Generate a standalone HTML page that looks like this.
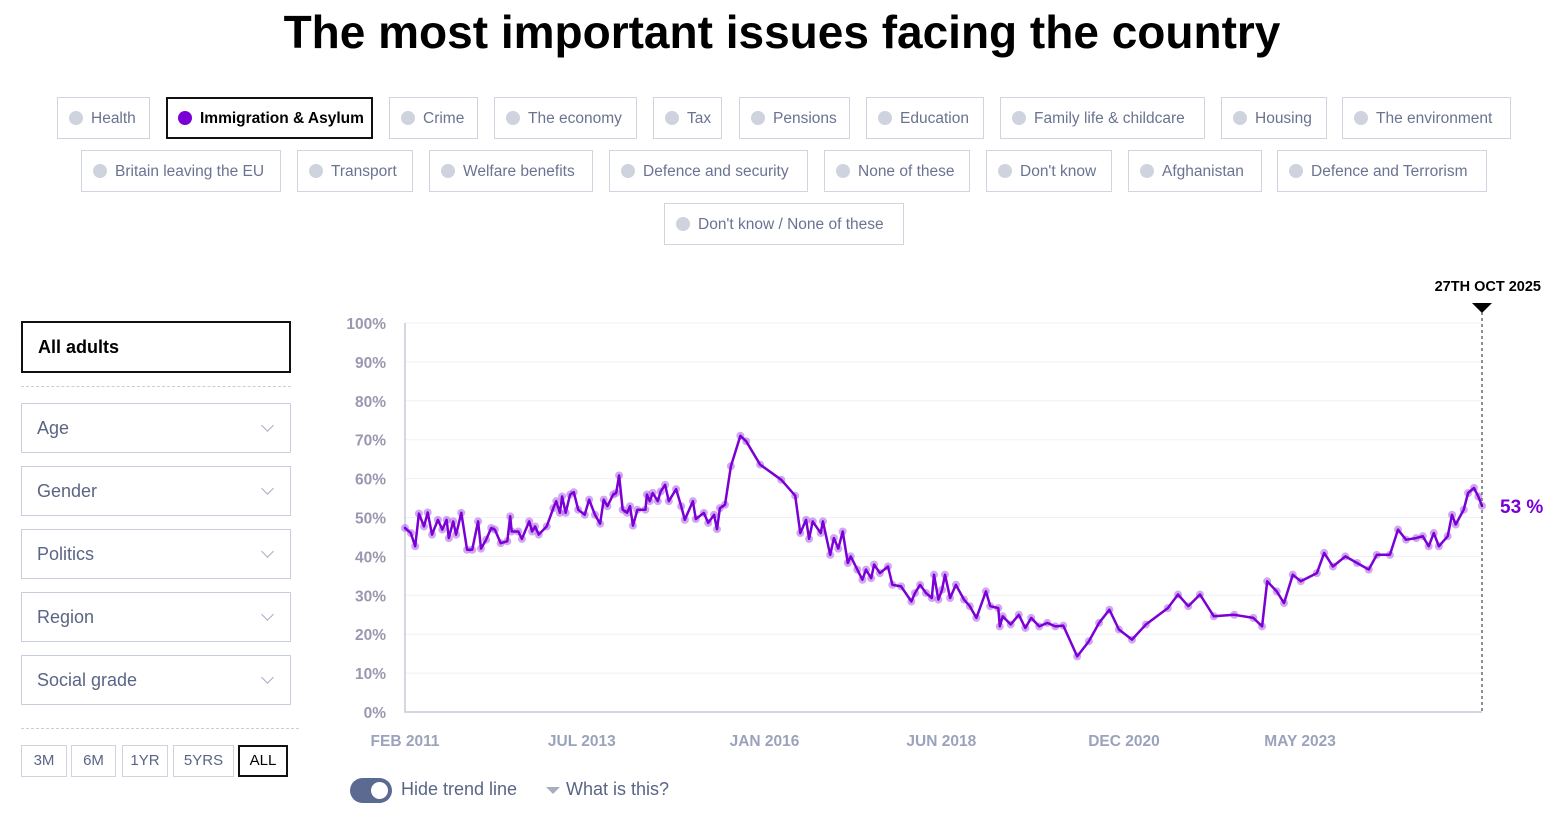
<!DOCTYPE html>
<html><head><meta charset="utf-8"><style>
body{margin:0;width:1564px;height:824px;background:#fff;font-family:"Liberation Sans",sans-serif;position:relative;overflow:hidden}
.t{position:absolute;left:0;width:1564px;top:5px;text-align:center;font-size:46px;font-weight:bold;letter-spacing:0;color:#000}
.b{position:absolute;height:42px;border:1px solid #d0d4e0;box-sizing:border-box;color:#6a7391;font-size:15.5px;line-height:41px;padding-left:33px;white-space:nowrap}
.b:before{content:"";position:absolute;left:11px;top:13px;width:14px;height:14px;border-radius:50%;background:#cfd3de}
.b.on{border:2px solid #111;color:#000;font-weight:bold;line-height:39px;padding-left:32px}
.b.on:before{background:#7a00d6;left:10px;top:12px}
.dd{position:absolute;left:21px;width:270px;height:50px;border:1px solid #c9cedd;box-sizing:border-box;font-size:18px;color:#5a6585;line-height:48px;padding-left:15px}
.dd:after{content:"";position:absolute;right:18px;top:17px;width:8px;height:8px;border-right:1.5px solid #a8aec2;border-bottom:1.5px solid #a8aec2;transform:rotate(45deg)}
.tb{position:absolute;top:745px;height:32px;border:1px solid #cfd3de;box-sizing:border-box;font-size:15px;color:#5a6585;text-align:center;line-height:30px}
.tb.on{border:2px solid #111;color:#000;line-height:28px}
.dash{position:absolute;left:21px;border-top:1px dashed #c9cedd}
</style></head><body>
<div class="t">The most important issues facing the country</div>
<div>
<div class="b" style="left:57px;top:97px;width:93px">Health</div>
<div class="b on" style="left:166px;top:97px;width:207px">Immigration &amp; Asylum</div>
<div class="b" style="left:389px;top:97px;width:89px">Crime</div>
<div class="b" style="left:494px;top:97px;width:143px">The economy</div>
<div class="b" style="left:653px;top:97px;width:69px">Tax</div>
<div class="b" style="left:739px;top:97px;width:111px">Pensions</div>
<div class="b" style="left:866px;top:97px;width:118px">Education</div>
<div class="b" style="left:1000px;top:97px;width:205px">Family life &amp; childcare</div>
<div class="b" style="left:1221px;top:97px;width:106px">Housing</div>
<div class="b" style="left:1342px;top:97px;width:169px">The environment</div>
<div class="b" style="left:81px;top:150px;width:200px">Britain leaving the EU</div>
<div class="b" style="left:297px;top:150px;width:116px">Transport</div>
<div class="b" style="left:429px;top:150px;width:164px">Welfare benefits</div>
<div class="b" style="left:609px;top:150px;width:199px">Defence and security</div>
<div class="b" style="left:824px;top:150px;width:146px">None of these</div>
<div class="b" style="left:986px;top:150px;width:126px">Don't know</div>
<div class="b" style="left:1128px;top:150px;width:134px">Afghanistan</div>
<div class="b" style="left:1277px;top:150px;width:210px">Defence and Terrorism</div>
<div class="b" style="left:664px;top:203px;width:240px">Don't know / None of these</div>
</div>
<div style="position:absolute;left:21px;top:321px;width:270px;height:52px;border:2px solid #111;box-sizing:border-box;font-size:18px;font-weight:bold;line-height:48px;padding-left:15px">All adults</div>
<div class="dash" style="top:386px;width:270px"></div>
<div class="dd" style="top:403px">Age</div>
<div class="dd" style="top:466px">Gender</div>
<div class="dd" style="top:529px">Politics</div>
<div class="dd" style="top:592px">Region</div>
<div class="dd" style="top:655px">Social grade</div>
<div class="dash" style="top:728px;width:278px"></div>
<div class="tb" style="left:21px;width:46px">3M</div>
<div class="tb" style="left:71px;width:45px">6M</div>
<div class="tb" style="left:122px;width:46px">1YR</div>
<div class="tb" style="left:173px;width:61px">5YRS</div>
<div class="tb on" style="left:238px;width:50px">ALL</div>
<div style="position:absolute;left:350px;top:778px;width:42px;height:25px;border-radius:13px;background:#5b6a90"><div style="position:absolute;right:4px;top:4px;width:17px;height:17px;border-radius:50%;background:#fff"></div></div>
<div style="position:absolute;left:401px;top:779px;font-size:18px;color:#5a6585">Hide trend line</div>
<div style="position:absolute;left:546px;top:779px;font-size:18px;color:#5a6585"><span style="display:inline-block;width:0;height:0;border-left:7px solid transparent;border-right:7px solid transparent;border-top:7px solid #a8aec2;vertical-align:middle;margin-right:6px"></span>What is this?</div>
<svg id="c" width="1564" height="824" style="position:absolute;left:0;top:0"></svg>
<script>
const yTicks=[0,10,20,30,40,50,60,70,80,90,100];
const xTickYears=[2011.08,2013.5,2016.0,2018.42,2020.92,2023.33];
const xTickLabels=["FEB 2011","JUL 2013","JAN 2016","JUN 2018","DEC 2020","MAY 2023"];
const dates=[2011.08,2011.16,2011.22,2011.27,2011.34,2011.39,2011.45,2011.53,2011.59,2011.65,2011.68,2011.74,2011.78,2011.85,2011.93,2012.00,2012.08,2012.12,2012.19,2012.26,2012.31,2012.39,2012.48,2012.52,2012.54,2012.63,2012.68,2012.78,2012.82,2012.86,2012.91,2013.02,2013.11,2013.15,2013.20,2013.23,2013.28,2013.34,2013.39,2013.45,2013.54,2013.60,2013.68,2013.75,2013.80,2013.85,2013.93,2013.97,2014.01,2014.06,2014.12,2014.16,2014.20,2014.26,2014.37,2014.39,2014.43,2014.47,2014.54,2014.58,2014.64,2014.69,2014.79,2014.86,2014.91,2015.02,2015.06,2015.17,2015.23,2015.31,2015.35,2015.39,2015.46,2015.54,2015.67,2015.75,2015.94,2016.23,2016.42,2016.49,2016.57,2016.61,2016.66,2016.77,2016.80,2016.90,2016.95,2017.01,2017.07,2017.14,2017.18,2017.27,2017.34,2017.39,2017.46,2017.50,2017.58,2017.69,2017.75,2017.87,2018.01,2018.06,2018.13,2018.21,2018.29,2018.32,2018.38,2018.43,2018.47,2018.54,2018.62,2018.73,2018.81,2018.90,2019.03,2019.09,2019.20,2019.22,2019.26,2019.37,2019.48,2019.57,2019.65,2019.76,2019.87,2019.98,2020.09,2020.28,2020.44,2020.58,2020.72,2020.85,2021.03,2021.22,2021.52,2021.66,2021.80,2021.96,2022.15,2022.43,2022.69,2022.81,2022.88,2023.01,2023.11,2023.23,2023.34,2023.56,2023.66,2023.78,2023.95,2024.11,2024.27,2024.38,2024.56,2024.67,2024.78,2024.92,2025.01,2025.09,2025.16,2025.23,2025.35,2025.41,2025.46,2025.57,2025.63,2025.71,2025.77,2025.82];
const values=[47.3,46,42.6,51,47.7,51.3,45.6,49.4,46.9,49.4,44.7,49,45.6,51.2,41.7,41.7,49,42,44.3,47.3,46.9,43.4,43.9,50.3,46.4,46.4,44.5,49,46.4,47.7,45.6,47.7,52.4,54.2,51.2,55.4,51.2,55.9,56.5,52,50.7,54.6,50.7,48.4,54.6,52.9,55.9,56.3,60.8,52,51.2,52.9,47.9,52,52,55.9,54.2,56.3,54.2,56.7,58.4,54.2,57.3,52.9,49.4,54.2,49.6,51.2,48.6,50.7,47,52.4,53.3,63.2,71,69.6,63.6,59.7,55.6,46,49.4,44.5,49,46,49,40.4,44.7,42,46.4,38.3,40,36.6,34,36.6,34.4,37.9,35.7,37.4,32.7,32.3,28.4,30.6,32.7,30.6,29.3,35.3,28.9,31.4,35.3,29.3,32.7,28.9,27.2,24.2,31,27.2,26.7,22,24.6,22.5,25,21.6,24.2,22,22.9,22,22.2,14.3,18.2,22.9,26.3,21.2,18.6,22.5,26.7,30.2,27.2,30.2,24.6,25,24.2,22,33.6,31,28,35.3,33.6,35.7,40.9,37.4,40,38.3,36.6,40.4,40.4,46.9,44.3,44.7,45.2,42.6,46,42.6,45.2,50.7,48.2,52,56.3,57.6,55.4,53];
const latestLabel="53 %";
const NS="http://www.w3.org/2000/svg";
const svg=document.getElementById('c');
const X0=405,X1=1482,Y0=712,Y1=323,D0=2011.08,D1=2025.82;
function xs(d){return X0+(d-D0)/(D1-D0)*(X1-X0);}
function ys(v){return Y0-v/100*(Y0-Y1);}
function mk(tag,attrs){const e=document.createElementNS(NS,tag);for(const k in attrs)e.setAttribute(k,attrs[k]);svg.appendChild(e);return e;}
yTicks.forEach(v=>{
 if(v>0){const g=mk('line',{x1:X0,x2:X1,y1:ys(v),y2:ys(v),stroke:'#f1f1f5','stroke-width':1});
 
 }
 const t=mk('text',{x:386,y:ys(v)+6,'text-anchor':'end','font-size':15.5,'font-weight':'bold',fill:'#9a98b0','font-family':'Liberation Sans'});
 t.textContent=v+'%';
 
 
});
xTickYears.forEach((d,i)=>{
 const t=mk('text',{x:xs(d),y:746,'text-anchor':'middle','font-size':15.5,'font-weight':'bold',fill:'#9aa3bb','font-family':'Liberation Sans'});
 t.textContent=xTickLabels[i];
 
 
});
const ax=mk('path',{d:`M${X0} ${Y1}V${Y0}H${X1}`,fill:'none',stroke:'#c5c9d8','stroke-width':1.5});


dates.forEach((d,i)=>{
 const c=mk('circle',{cx:xs(d),cy:ys(values[i]),r:4,fill:'#a64ee8','fill-opacity':0.5});
 
 
});
const ln=mk('polyline',{points:dates.map((d,i)=>xs(d).toFixed(1)+','+ys(values[i]).toFixed(1)).join(' '),fill:'none',stroke:'#7a00d6','stroke-width':2.5,'stroke-linejoin':'round','stroke-linecap':'round'});


const vl=mk('line',{x1:X1,x2:X1,y1:312,y2:Y0,stroke:'#222','stroke-width':1,'stroke-dasharray':'3,3'});


const tri=mk('path',{d:`M${X1-10} 303H${X1+10}L${X1} 313Z`,fill:'#000'});


const dl=mk('text',{x:1541,y:291,'text-anchor':'end','font-size':14.5,'font-weight':'bold',fill:'#000','font-family':'Liberation Sans'});
dl.textContent='27TH OCT 2025';


const vv=mk('text',{x:1500,y:ys(values[values.length-1])+7,'font-size':19,'font-weight':'bold',fill:'#7a00d6','font-family':'Liberation Sans'});
vv.textContent=latestLabel;


</script>
</body></html>
